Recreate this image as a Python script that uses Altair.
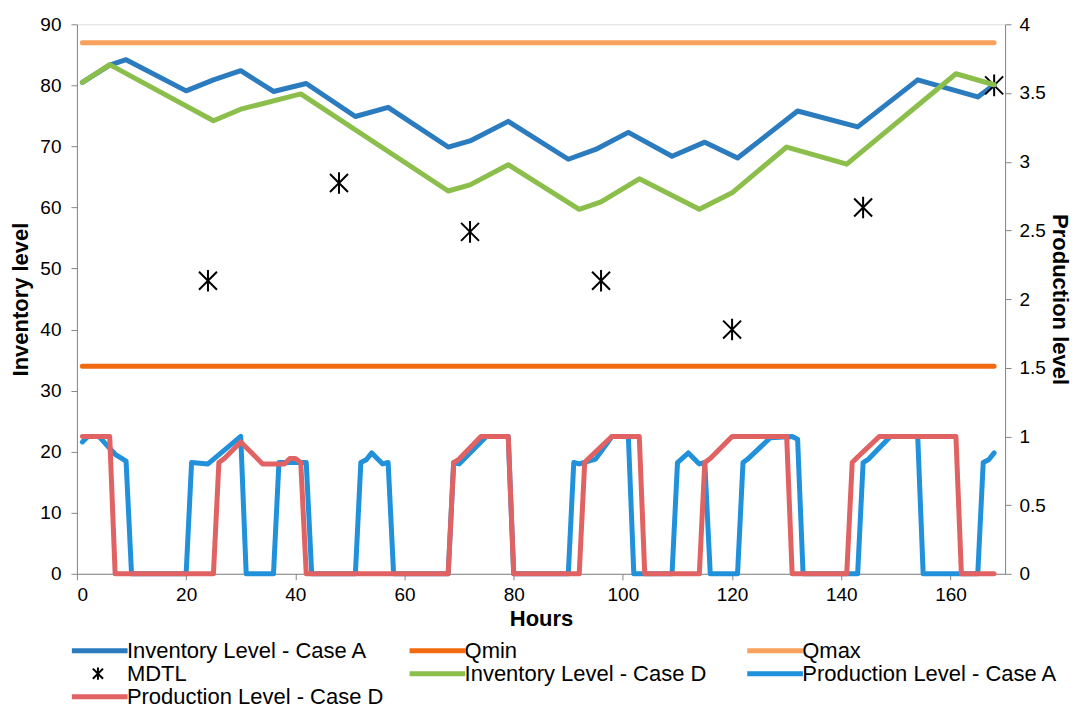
import altair as alt
import pandas as pd

series_order = ["Inventory Level - Case A", "Qmin", "Qmax", "MDTL",
                "Inventory Level - Case D", "Production Level - Case A",
                "Production Level - Case D"]
series_colors = ["#2B7BBF", "#F26A10", "#F8A15C", "#000000",
                 "#8BBE4B", "#2191DB", "#E06262"]

inv_a_hours = [1, 6, 9, 20, 25, 30, 36, 42, 51, 57, 68, 72, 79, 90, 95, 101,
               109, 115, 121, 132, 143, 154, 165, 168]
inv_a_values = [80.5, 83.3, 84.2, 79.1, 80.9, 82.4, 79.0, 80.3, 74.9, 76.4,
                69.9, 70.9, 74.1, 67.9, 69.5, 72.3, 68.4, 70.7, 68.1, 75.8,
                73.2, 80.9, 78.1, 80.1]

inv_d_hours = [1, 6, 25, 30, 41, 68, 72, 79, 92, 96, 103, 114, 120, 130, 141,
               161, 168]
inv_d_values = [80.5, 83.4, 74.2, 76.1, 78.6, 62.7, 63.7, 67.0, 59.7, 60.9,
                64.7, 59.7, 62.4, 69.9, 67.1, 81.9, 80.1]

qmin_hours = [1, 168]
qmin_values = [34, 34]
qmax_hours = [1, 168]
qmax_values = [87, 87]

mdtl_hours = [24, 48, 72, 96, 120, 144, 168]
mdtl_values = [48, 64, 56, 48, 40, 60, 80]

prod_a_hours = [1, 2, 4, 7, 9, 10, 20, 21, 24, 30, 31, 36, 37, 42, 43, 51, 52,
                53, 54, 56, 57, 58, 68, 69, 70, 75, 79, 80, 90, 91, 92, 95, 98,
                101, 102, 109, 110, 112, 114, 115, 116, 121, 122, 123, 127,
                131, 132, 133, 143, 144, 145, 149, 154, 155, 165, 166, 167, 168]
prod_a_values = [0.96, 1.0, 1.0, 0.87, 0.82, 0, 0, 0.81, 0.80, 1.0, 0, 0, 0.81,
                 0.81, 0, 0, 0.81, 0.83, 0.88, 0.80, 0.81, 0, 0, 0.81, 0.80,
                 1.0, 1.0, 0, 0, 0.81, 0.80, 0.835, 1.0, 1.0, 0, 0, 0.81, 0.88,
                 0.80, 0.81, 0, 0, 0.81, 0.84, 0.99, 1.0, 0.98, 0, 0, 0.81,
                 0.835, 1.0, 1.0, 0, 0, 0.81, 0.83, 0.88]

prod_d_hours = [1, 6, 7, 25, 26, 27, 30, 34, 38, 39, 40, 41, 42, 68, 69, 70, 74,
                79, 80, 92, 93, 94, 98, 103, 104, 114, 115, 116, 120, 130, 131,
                141, 142, 143, 147, 161, 162, 168]
prod_d_values = [1.0, 1.0, 0, 0, 0.81, 0.84, 0.96, 0.80, 0.80, 0.84, 0.84, 0.81,
                 0, 0, 0.81, 0.835, 1.0, 1.0, 0, 0, 0.81, 0.85, 1.0, 1.0, 0, 0,
                 0.81, 0.84, 1.0, 1.0, 0, 0, 0.81, 0.85, 1.0, 1.0, 0, 0]


def frame(name, hours, values):
    return pd.DataFrame({"hour": hours, "value": values, "series": name})


FONT = "Liberation Sans"
# legend symbol size 289 -> custom paths scaled by 8.5; the star is drawn
# shifted right by 1.18 units so that it sits in the middle of the legend
# swatch, and the plotted markers are shifted back with xOffset.
STAR_SHIFT = 1.18
STAR = ("M{a},-0.6L{b},0.6M{a},0.6L{b},-0.6M{c},-0.72L{c},0.72"
        .format(a=STAR_SHIFT - 0.6, b=STAR_SHIFT + 0.6, c=STAR_SHIFT))
SEG = "M-1.89,0L4.67,0"
series_shapes = [SEG, SEG, SEG, STAR, SEG, SEG, SEG]
series_widths = [5, 5, 5, 2, 5, 5, 5]
MDTL_SIZE = 900
AXIS_GRAY = "#868686"
TICK_FS = 19
TITLE_FS = 22

x_enc = alt.X("hour:Q",
              scale=alt.Scale(domain=[0, 170], nice=False, zero=False),
              axis=alt.Axis(title="Hours", values=list(range(0, 161, 20)),
                            grid=False, domainColor=AXIS_GRAY, tickColor=AXIS_GRAY,
                            tickSize=6, labelFontSize=TICK_FS, labelFont=FONT,
                            labelColor="black", titleFontSize=TITLE_FS,
                            titleFont=FONT, titleFontWeight="bold",
                            titleColor="black", titlePadding=4, labelPadding=6))

legend = alt.Legend(
    title=None, orient="bottom", direction="horizontal", columns=3,
    gridAlign="all", columnPadding=15, rowPadding=1, labelFontSize=22,
    labelFont=FONT, labelColor="black", labelLimit=500,
    symbolSize=289, labelOffset=28, offset=10)

color_enc = alt.Color("series:N",
                      scale=alt.Scale(domain=series_order, range=series_colors),
                      legend=legend)
shape_enc = alt.Shape("series:N",
                      scale=alt.Scale(domain=series_order, range=series_shapes),
                      legend=legend)
width_enc = alt.StrokeWidth("series:N",
                            scale=alt.Scale(type="ordinal", domain=series_order,
                                            range=series_widths),
                            legend=legend)

y_left = alt.Y("value:Q",
               scale=alt.Scale(domain=[0, 90], nice=False),
               axis=alt.Axis(title="Inventory level", values=list(range(0, 91, 10)),
                             grid=False, domainColor=AXIS_GRAY, tickColor=AXIS_GRAY,
                             tickSize=6, labelFontSize=TICK_FS, labelFont=FONT,
                             labelColor="black", titleFontSize=TITLE_FS,
                             titleFont=FONT, titleFontWeight="bold",
                             titleColor="black", titlePadding=7, labelPadding=10))

y_right = alt.Y("value:Q",
                scale=alt.Scale(domain=[0, 4], nice=False),
                axis=alt.Axis(title="Production level", orient="right",
                              values=[0, 0.5, 1, 1.5, 2, 2.5, 3, 3.5, 4],
                              format="~g", grid=False, domainColor=AXIS_GRAY,
                              tickColor=AXIS_GRAY, tickSize=6,
                              labelFontSize=TICK_FS, labelFont=FONT,
                              labelColor="black", titleFontSize=TITLE_FS,
                              titleFont=FONT, titleFontWeight="bold",
                              titleColor="black", titlePadding=2, labelPadding=8))


def line_layer(df, y):
    return alt.Chart(df).mark_line(strokeCap="round", strokeJoin="round").encode(
        x=x_enc, y=y, color=color_enc, strokeWidth=width_enc)


inv_a = line_layer(frame("Inventory Level - Case A", inv_a_hours, inv_a_values), y_left)
qmin = line_layer(frame("Qmin", qmin_hours, qmin_values), y_left)
qmax = line_layer(frame("Qmax", qmax_hours, qmax_values), y_left)
mdtl = alt.Chart(frame("MDTL", mdtl_hours, mdtl_values)).mark_point(
    size=MDTL_SIZE, filled=False, opacity=1,
    xOffset=-STAR_SHIFT * (MDTL_SIZE ** 0.5) / 2).encode(
    x=x_enc, y=y_left, color=color_enc, shape=shape_enc, strokeWidth=width_enc)
inv_d = line_layer(frame("Inventory Level - Case D", inv_d_hours, inv_d_values), y_left)

prod_a = line_layer(frame("Production Level - Case A", prod_a_hours, prod_a_values), y_right)
prod_d = line_layer(frame("Production Level - Case D", prod_d_hours, prod_d_values), y_right)

left = alt.layer(inv_a, qmin, qmax, mdtl, inv_d)
right = alt.layer(prod_a, prod_d)

chart = alt.layer(left, right).resolve_scale(y="independent").properties(
    width=1068, height=700,
    autosize=alt.AutoSizeParams(type="fit", contains="padding"),
    padding={"left": 1, "top": 7, "right": 4, "bottom": 0},
).configure_view(stroke=None).configure(background="white")

chart.save("out.html", embed_options={"renderer": "svg", "actions": False})
